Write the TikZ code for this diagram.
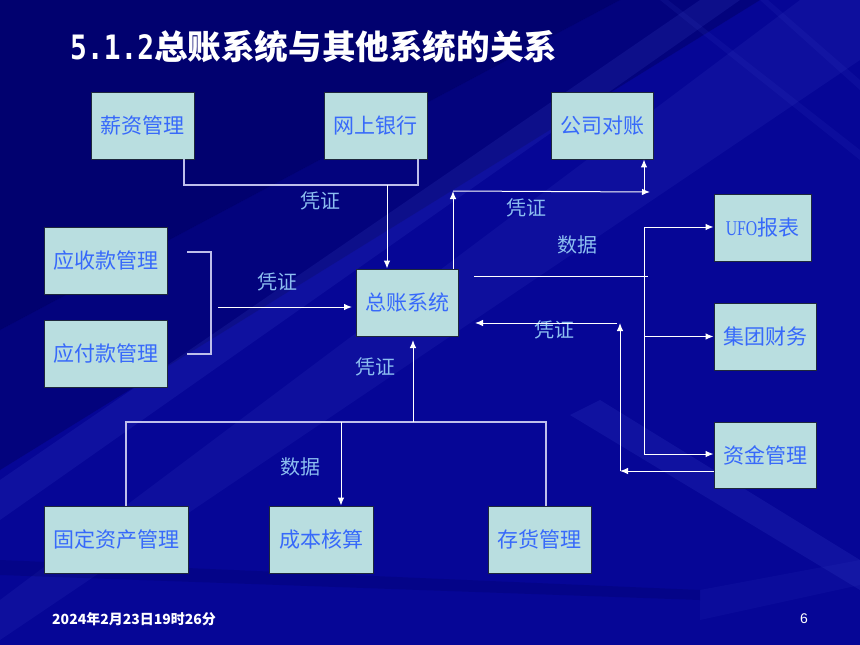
\documentclass[tikz,border=0pt]{standalone}
\usepackage{fontspec}
\setmainfont{Noto Sans CJK SC}
\newfontfamily\monof{DejaVu Sans Mono}
\newfontfamily\serf{Liberation Serif}
\newfontfamily\arialf{Liberation Sans}
\usetikzlibrary{arrows.meta}
\definecolor{bgbase}{RGB}{6,6,150}
\definecolor{bgdark}{RGB}{0,0,95}
\definecolor{bglight}{RGB}{60,70,200}
\definecolor{boxfill}{RGB}{185,222,224}
\definecolor{boxline}{RGB}{30,40,60}
\definecolor{txtblue}{RGB}{55,105,250}
\definecolor{lblblue}{RGB}{140,190,240}
\definecolor{lavline}{RGB}{190,190,235}
\tikzset{
  sysbox/.style={draw=boxline, line width=0.9pt, fill=boxfill, text=txtblue,
    minimum height=67pt, inner sep=0pt, font=\fontsize{21}{25}\selectfont},
  lbl/.style={text=lblblue, inner sep=0pt, font=\fontsize{20}{24}\selectfont},
  plainline/.style={draw=lavline, line width=1.1pt},
  wline/.style={draw=white, line width=1pt},
  arr/.style={draw=white, line width=1pt, -{Latex[length=8pt,width=6.5pt]}},
}
\begin{document}
\begin{tikzpicture}[x=1pt,y=-1pt]
\useasboundingbox (0,0) rectangle (860,645);
% background
\fill[bgbase] (0,0) rectangle (860,645);
\fill[bgdark, opacity=0.7] (0,0) -- (620,0) -- (0,330) -- cycle;
\fill[bgdark, opacity=0.45] (0,330) -- (620,0) -- (760,0) -- (0,470) -- cycle;
\fill[bglight, opacity=0.18] (700,0) -- (740,0) -- (0,520) -- (0,480) -- cycle;
\fill[bglight, opacity=0.15] (800,0) -- (860,0) -- (860,60) -- (0,640) -- (0,600) -- cycle;
\fill[bglight, opacity=0.12] (660,0) -- (668,0) -- (860,150) -- (860,160) -- cycle;
\fill[bglight, opacity=0.12] (760,0) -- (768,0) -- (860,80) -- (860,90) -- cycle;
\fill[bglight, opacity=0.2] (600,400) -- (860,560) -- (860,590) -- (570,415) -- cycle;
\fill[bglight, opacity=0.1] (700,590) -- (860,560) -- (860,585) -- (700,620) -- cycle;
\fill[bgdark, opacity=0.25] (0,560) -- (700,590) -- (700,600) -- (0,575) -- cycle;

% title
\node[anchor=west, text=white, inner sep=0pt, font=\fontsize{33.6}{37}\selectfont\bfseries] (title) at (70,47)
  {\scalebox{0.83}[1]{\monof 5.1.2}总账系统与其他系统的关系};

% boxes
\node[sysbox, minimum width=103pt] (xz) at (142.5,125.5) {薪资管理};
\node[sysbox, minimum width=103pt] (wy) at (375.5,125.5) {网上银行};
\node[sysbox, minimum width=102pt] (gs) at (602,125.5) {公司对账};
\node[sysbox, minimum width=97pt] (ufo) at (762.5,227.5) {\scalebox{0.75}[1]{\serf UFO}报表\hspace{14pt}};
\node[sysbox, minimum width=102pt] (jt) at (765,336.5) {集团财务};
\node[sysbox, minimum width=102pt, minimum height=66pt] (zj) at (765,455) {资金管理};
\node[sysbox, minimum width=123pt] (ys) at (105.5,260.5) {应收款管理};
\node[sysbox, minimum width=123pt] (yf) at (105.5,353.5) {应付款管理};
\node[sysbox, minimum width=102pt] (zz) at (407,302.5) {总账系统};
\node[sysbox, minimum width=144pt] (gd) at (116,539.5) {固定资产管理};
\node[sysbox, minimum width=104pt] (cb) at (321,539.5) {成本核算};
\node[sysbox, minimum width=103pt] (ch) at (539.5,539.5) {存货管理};

% labels
\node[lbl] (l1) at (320,201) {凭证};
\node[lbl] (l2) at (526,208) {凭证};
\node[lbl] (l3) at (277,282) {凭证};
\node[lbl] (l4) at (375,367) {凭证};
\node[lbl] (l5) at (554,330) {凭证};
\node[lbl] (l6) at (577,245) {数据};
\node[lbl] (l7) at (300,467) {数据};

% top join (薪资管理, 网上银行 -> 总账系统)
\coordinate (jxz) at (184,185);
\coordinate (jwy) at (418,185);
\coordinate (jtop) at (387,185);
\draw[plainline] (jxz |- xz.south) -- (jxz) -- (jwy) -- (jwy |- wy.south);
\draw[arr] (jtop) -- (jtop |- zz.north);

% bracket (应收款/应付款 -> 总账系统)
\coordinate (b1) at (187,252);
\coordinate (b2) at (211,252);
\coordinate (b3) at (211,354);
\coordinate (b4) at (187,354);
\draw[plainline] (b1) -- (b2) -- (b3) -- (b4);
\coordinate (ba) at (218,307);
\coordinate (bb) at (352,307);
\draw[arr] (ba) -- (bb);

% 总账系统 -> 公司对账
\coordinate (cu) at (453,191);
\coordinate (cr) at (650,192);
\coordinate (cg) at (644,192);
\draw[arr] (cu |- zz.north) -- (cu);
\draw[arr] (cu) -- (cr);
\draw[arr] (cg) -- (cg |- gs.south);

% 总账系统 -> UFO / 集团 / 资金 (数据)
\coordinate (d1) at (474,276);
\coordinate (d2) at (648,276);
\draw[wline] (d1) -- (d2);
\coordinate (t1) at (644,227);
\coordinate (t2) at (644,454);
\draw[wline] (t1) -- (t2);
\draw[arr] (t1) -- (t1 -| ufo.west);
\draw[arr] (t1 |- jt.west) -- (jt.west);
\draw[arr] (t2) -- (t2 -| zj.west);

% 资金管理 -> 总账系统 (凭证)
\coordinate (v1) at (620,471);
\coordinate (v2) at (620,323);
\coordinate (v3) at (617,323);
\coordinate (v4) at (475,323);
\draw[arr] (v1 -| zj.west) -- (v1);
\draw[arr] (v1) -- (v2);
\draw[arr] (v3) -- (v4);

% bottom join
\coordinate (h1) at (126,422);
\coordinate (h2) at (546,422);
\coordinate (hc) at (341,422);
\coordinate (hz) at (413,422);
\coordinate (hzt) at (413,340);
\draw[plainline] (h1 |- gd.north) -- (h1) -- (h2) -- (h2 |- ch.north);
\draw[arr] (hc) -- (hc |- cb.north);
\draw[arr] (hz) -- (hzt);

% footer
\node[anchor=west, text=white, inner sep=0pt, font=\fontsize{14}{16}\selectfont\bfseries] (date) at (52,619)
  {2024年2月23日19时26分};
\node[text=white, inner sep=0pt, font=\arialf\fontsize{14}{16}\selectfont] (page) at (804,619) {6};
\end{tikzpicture}
\end{document}
